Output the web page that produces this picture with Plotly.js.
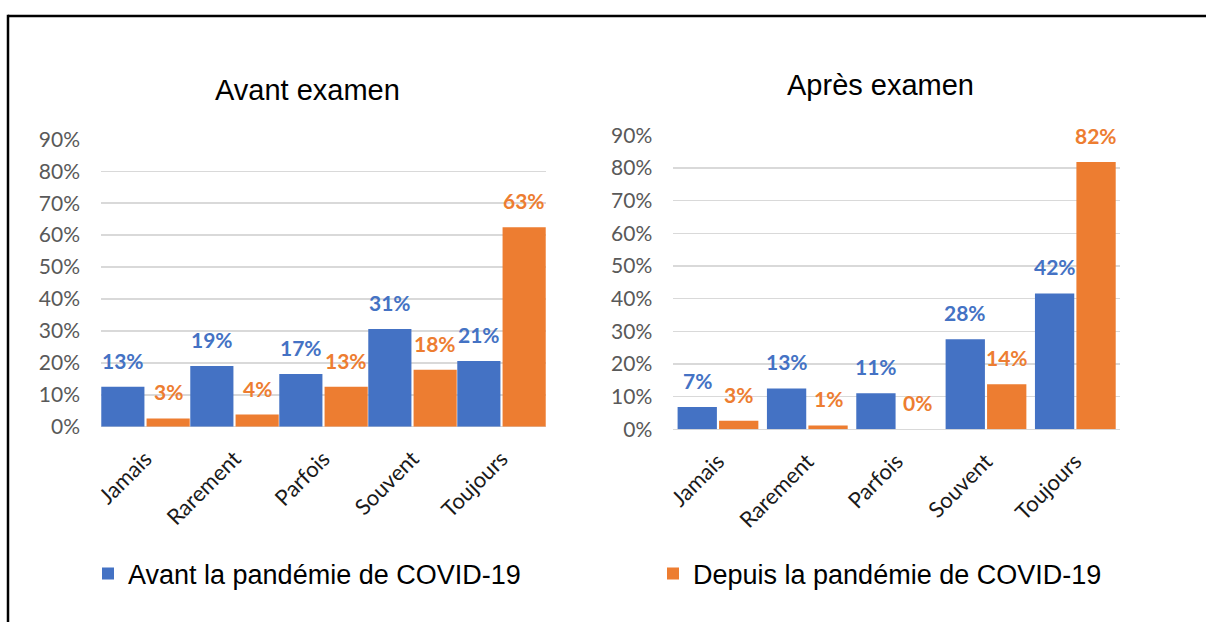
<!DOCTYPE html>
<html>
<head>
<meta charset="utf-8">
<script src="https://cdn.plot.ly/plotly-3.0.1.min.js"></script>
<style>html,body{margin:0;padding:0;background:#fff}#chart{width:1206px;height:622px}</style>
</head>
<body>
<div id="chart"></div>
<script>
// ---- data ----
const categories = ['Jamais', 'Rarement', 'Parfois', 'Souvent', 'Toujours'];
const seriesNames = ['Avant la pandémie de COVID-19', 'Depuis la pandémie de COVID-19'];
const avantExamenBefore = [0.125, 0.19, 0.165, 0.306, 0.206];
const avantExamenSince  = [0.026, 0.038, 0.125, 0.178, 0.625];
const apresExamenBefore = [0.068, 0.125, 0.11, 0.276, 0.416];
const apresExamenSince  = [0.026, 0.012, 0.0, 0.138, 0.818];
const panelTitles = ['Avant examen', 'Après examen'];

// ---- styles ----
const BLUE = '#4472C4', ORANGE = '#ED7D31';
const W = 1206, H = 622;
const tickFont = {family: 'Lato, Open Sans, sans-serif', size: 21, color: '#595959'};
const catFont = {family: 'Lato, Open Sans, sans-serif', size: 22, color: '#1a1a1a'};
const labelFontBase = {family: 'Lato, Open Sans, sans-serif', size: 21, weight: 'bold'};

const panels = [
  {xa: 'x', ya: 'y', before: avantExamenBefore, since: avantExamenSince,
   offB: -0.497, offS: 0.012, wid: 0.485},
  {xa: 'x2', ya: 'y2', before: apresExamenBefore, since: apresExamenSince,
   offB: -0.452, offS: 0.012, wid: 0.44}
];

const traces = [];
const annotations = [];
panels.forEach((p, k) => {
  traces.push({type: 'bar', x: categories, y: p.before, xaxis: p.xa, yaxis: p.ya,
    name: seriesNames[0], marker: {color: BLUE}, offset: p.offB, width: p.wid,
    showlegend: k === 0, legend: 'legend', hoverinfo: 'skip'});
  traces.push({type: 'bar', x: categories, y: p.since, xaxis: p.xa, yaxis: p.ya,
    name: seriesNames[1], marker: {color: ORANGE}, offset: p.offS, width: p.wid,
    showlegend: k === 1, legend: 'legend2', hoverinfo: 'skip'});
  [[p.before, p.offB, BLUE], [p.since, p.offS, ORANGE]].forEach(([vals, off, col]) => {
    vals.forEach((v, i) => {
      annotations.push({xref: p.xa, yref: p.ya, x: i + off + p.wid / 2, y: v, xanchor: 'center',
        text: Math.round(v * 100) + '%', showarrow: false, yanchor: 'bottom', yshift: 12,
        font: Object.assign({}, labelFontBase, {color: col})});
    });
  });
});

annotations.push({xref: 'paper', yref: 'paper', x: 307 / W, y: 1 - 90 / H, xanchor: 'center', yanchor: 'middle',
  text: panelTitles[0], showarrow: false, font: {family: 'Liberation Sans, Arial', size: 29, color: '#000'}});
annotations.push({xref: 'paper', yref: 'paper', x: 880.5 / W, y: 1 - 85 / H, xanchor: 'center', yanchor: 'middle',
  text: panelTitles[1], showarrow: false, font: {family: 'Liberation Sans, Arial', size: 29, color: '#000'}});

function xAxis(dom, anchor) {
  return {domain: dom, anchor: anchor, type: 'category', range: [-0.5, 4.5], tickangle: -45,
    tickfont: catFont, showgrid: false, zeroline: false, showline: false, ticks: '',
    ticklabelstandoff: 14, fixedrange: true};
}
function yAxis(dom, anchor) {
  return {domain: dom, anchor: anchor, range: [0, 0.9001], tick0: 0, dtick: 0.1, tickformat: '.0%',
    tickfont: tickFont, showgrid: true, gridcolor: '#D9D9D9', gridwidth: 1.5,
    zeroline: true, zerolinecolor: '#D9D9D9', zerolinewidth: 1.5, showline: false, ticks: '',
    ticklabelstandoff: 20, fixedrange: true};
}

const layout = {
  width: W, height: H, margin: {l: 0, r: 0, t: 0, b: 0},
  paper_bgcolor: '#fff', plot_bgcolor: 'rgba(0,0,0,0)',
  barmode: 'overlay', showlegend: true,
  xaxis: xAxis([101 / W, 546 / W], 'y'),
  yaxis: yAxis([1 - 426.7 / H, 1 - 139.3 / H], 'x'),
  xaxis2: xAxis([673.3 / W, 1120 / W], 'y2'),
  yaxis2: yAxis([1 - 429.3 / H, 1 - 135.3 / H], 'x2'),
  legend: {x: 88 / W, xanchor: 'left', y: 1 - 574 / H, yanchor: 'middle',
    font: {family: 'Liberation Sans, Arial', size: 27, color: '#000'}, bgcolor: 'rgba(0,0,0,0)'},
  legend2: {x: 653 / W, xanchor: 'left', y: 1 - 574 / H, yanchor: 'middle',
    font: {family: 'Liberation Sans, Arial', size: 27, color: '#000'}, bgcolor: 'rgba(0,0,0,0)'},
  annotations: annotations,
  shapes: [
    {type: 'line', xref: 'paper', yref: 'paper', x0: 8 / W, x1: 1.01, y0: 1 - 16 / H, y1: 1 - 16 / H,
      line: {color: '#000', width: 2.5}},
    {type: 'line', xref: 'paper', yref: 'paper', x0: 8 / W, x1: 8 / W, y0: -0.01, y1: 1 - 14.8 / H,
      line: {color: '#000', width: 2.5}}
  ]
};

Plotly.newPlot('chart', traces, layout, {staticPlot: true, displayModeBar: false});
</script>
</body>
</html>
